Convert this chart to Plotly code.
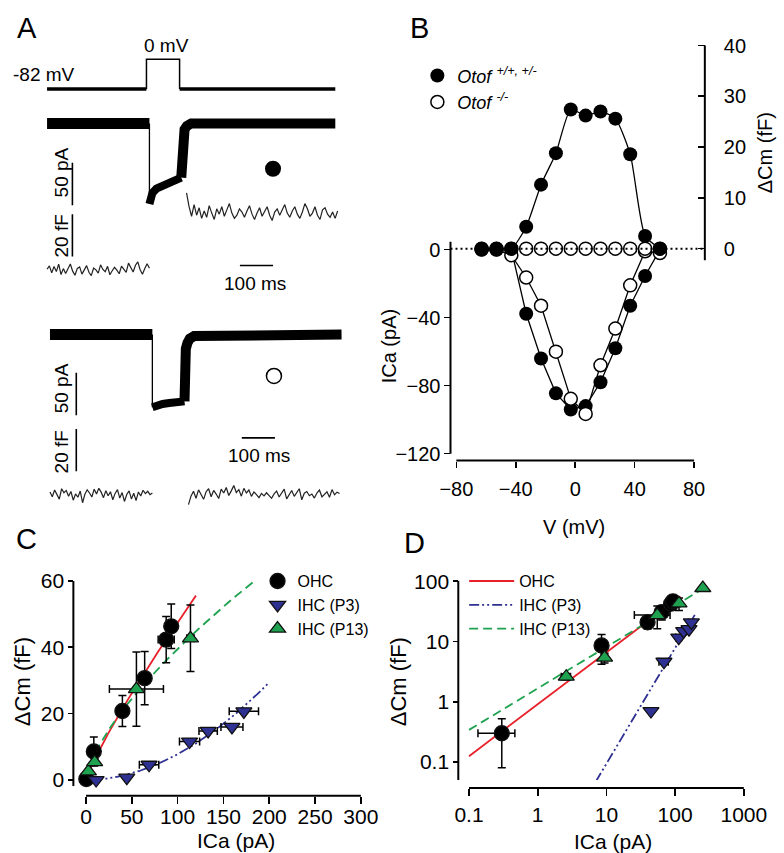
import numpy as np
import plotly.graph_objects as go

W, H = 784, 853
FONT = "Liberation Sans, Arial, sans-serif"

# ======================= DATA =======================
# ---- Panel A: example recordings (time in ms) ----
hold_mV, step_mV = -82, 0
pulse_on_ms, pulse_off_ms, sweep_end_ms = 300, 400, 870

# Otof +/+ (top) Ca current, pA
wt_I_pre_t = [0, 309]
wt_I_pre = [0, 0]
wt_I_step_t = [309, 312, 318, 330, 345, 360, 375, 390, 405]
wt_I_step = [-95, -88, -82, -77, -74, -71, -68, -66, -64]
wt_I_post_t = [405, 406, 408, 411, 415, 422, 435, 870]
wt_I_post = [-64, -45, -22, -12, -7, -3, 0, 0]
# Otof +/+ capacitance, fF
wt_Cm_pre_span = (0, 309)
wt_Cm_pre = [0.5, 2.1, -1.2, 1.8, -0.6, 2.9, -2.0, 0.8, -1.5, 1.2, 3.0, -0.4, -2.3, 0.9, 1.6,
             -1.8, 0.3, 2.2, -0.9, -2.5, 1.1, 0.2, -1.3, 2.6, 0.4, -0.7, 1.9, -2.1, -0.2, 1.4,
             0.1, -1.6, 2.0, 0.6, -1.0, 3.4, 1.2, -0.8, 2.4, 4.0, 0.3, -1.9, 0.8, 3.1, 1.0]
wt_Cm_post_span = (421, 877)
wt_Cm_post = [36.5, 30, 25.5, 31, 26, 29.5, 24.5, 28, 25, 30.5, 27, 24, 29, 26.5, 30, 25.5,
              28.5, 31.5, 27, 24.5, 26, 29, 27.5, 25, 28, 30.5, 26.5, 24, 27, 29.5, 25.5, 28,
              30, 26, 23.5, 27.5, 29, 26, 28.5, 31, 27, 25, 28, 30, 26.5, 24.5, 27.5, 31.5,
              29, 25.5, 27, 30, 26, 24, 28.5, 29.5, 26.5, 25, 27.5, 24.5, 28]

# Otof -/- (bottom) Ca current, pA
ko_I_pre_t = [0, 309]
ko_I_pre = [0, 0]
ko_I_step_t = [309, 320, 340, 360, 380, 406]
ko_I_step = [-86, -84, -82, -81, -80, -79]
ko_I_post_t = [406, 407, 410, 415, 422, 435, 880]
ko_I_post = [-79, -30, -17, -10, -5, -2, 0]
# Otof -/- capacitance, fF
ko_Cm_pre_span = (0, 309)
ko_Cm_pre = [1.5, -0.8, 2.4, 0.2, -1.9, 3.0, 1.1, 2.2, -0.5, 1.7, -2.4, 0.6, -1.0, 1.9, -3.6,
             0.4, 2.5, 1.0, -0.9, 2.8, 0.5, 3.2, 1.4, -1.2, 2.1, -0.3, 1.6, -2.2, 0.8, 2.6,
             -1.4, 1.2, -3.0, 0.3, 2.0, -1.8, 0.9, -2.6, 1.5, -0.4, 2.3, 0.7, 1.8, 0.2, 1.0]
ko_Cm_post_span = (418, 874)
ko_Cm_post = [-4.5, -0.5, 1.8, -1.5, 2.5, 0.3, -2.0, 1.6, 3.0, -0.8, 2.2, 0.5, -1.6, 2.8, 1.0,
              3.6, -0.2, 2.0, 4.5, 1.2, 2.6, -0.5, 3.2, 1.0, 2.4, -0.6, 1.5, 0.2, -1.2, 0.8,
              -0.4, 1.1, 0.0, -1.5, 0.6, 1.9, -0.9, 1.2, 2.8, -1.8, 0.4, 2.2, -0.6, 1.3, 3.0,
              -2.2, 0.9, 1.7, -0.3, 0.5, -1.4, 1.0, 2.4, -0.8, 0.3, 1.6, -1.0, 2.6, 0.2, 1.4, 0.8]

# scale bars
SB_I_pA, SB_C_fF, SB_T_ms = 50, 20, 100

# ---- Panel B: I-V and dCm-V ----
V_mV = [-63, -53, -43, -33, -23, -13, -3, 7, 17, 27, 37, 47, 57]
wt_ICa = [0, 0, 0, -37.7, -64, -84.5, -94, -92, -78, -58, -33, -15.5, 0]
ko_ICa = [0, 0, -3.3, -16.4, -33, -60, -87.7, -96.6, -68, -46.4, -21, -1, -2]
wt_dCm = [0, 0, 0, 4.3, 12.6, 18.8, 27.4, 26.2, 27, 25.6, 18.6, 2.5, 0]
ko_dCm = [0, 0, 0, 0, 0, 0, 0, 0, 0, 0, 0, 0, 0]

# ---- Panels C & D: dCm vs ICa ----
ohc_I = [0.3, 8.5, 39.7, 64, 87.5, 93]
ohc_C = [0.3, 8.6, 20.8, 30.7, 42.3, 46.3]
ohc_Ierr = [0.165, 1.0, 1.5, 2.0, 8.8, 3.0]
ohc_Cerr = [0.22, 4.4, 4.7, 8.0, 7.0, 6.7]

p3_I = [11, 44.5, 68.8, 113, 133.3, 159.3, 172.3]
p3_C = [0, 0.7, 4.6, 11.6, 14.8, 16.0, 20.7]
p3_Ierr = [0, 0, 10.6, 11, 10, 12, 16]
p3_Cerr = [0, 0, 0.4, 0.6, 0.6, 0.6, 0.6]

p13_I = [2.6, 9.4, 55, 114, 253]
p13_C = [2.6, 5.4, 27.4, 42.7, 77]
p13_Ierr = [0.4, 1.0, 29.5, 4.0, 0]
p13_Cerr = [0.3, 1.0, 11.2, 10.0, 0]

# power-law fits  dCm = a * ICa^N  (a, N, ICa span)
fit_ohc = (0.905, 0.86, 0.1, 120)
fit_p3 = (0.001125, 1.92, 7, 200)
fit_p13 = (1.663, 0.688, 0.1, 260)

# ======================= STYLE =======================
RED = "#E8202A"
GREEN = "#1FA24F"
BLUE = "#2E3192"


def X(p):
    return p / W


def Y(p):
    return 1 - p / H


def xdom(l, r):
    return [X(l), X(r)]


def ydom(t, b):
    return [Y(b), Y(t)]


def xr(v0, p0, s, l, r):
    return [v0 + (l - p0) / s, v0 + (r - p0) / s]


def yr(v0, p0, s, t, b):
    return [v0 + (p0 - b) / s, v0 + (p0 - t) / s]


fig = go.Figure()

# ---------------- Panel A ----------------
fig.add_trace(go.Scatter(x=[0, pulse_on_ms, None, pulse_off_ms, sweep_end_ms],
                         y=[hold_mV, hold_mV, None, hold_mV, hold_mV],
                         mode="lines", line=dict(color="black", width=3.5),
                         xaxis="x", yaxis="y", showlegend=False, hoverinfo="skip"))
fig.add_trace(go.Scatter(x=[pulse_on_ms, pulse_on_ms, pulse_off_ms, pulse_off_ms],
                         y=[hold_mV, step_mV, step_mV, hold_mV],
                         mode="lines", line=dict(color="black", width=1.5),
                         xaxis="x", yaxis="y", showlegend=False, hoverinfo="skip"))


def current_trace(pre_t, pre, st_t, st, post_t, post, xa, ya):
    fig.add_trace(go.Scatter(x=pre_t, y=pre, mode="lines", line=dict(color="black", width=11),
                             xaxis=xa, yaxis=ya, showlegend=False, hoverinfo="skip"))
    fig.add_trace(go.Scatter(x=[pre_t[-1], st_t[0]], y=[pre[-1], st[0]], mode="lines",
                             line=dict(color="black", width=1.3),
                             xaxis=xa, yaxis=ya, showlegend=False, hoverinfo="skip"))
    fig.add_trace(go.Scatter(x=st_t, y=st, mode="lines", line=dict(color="black", width=8),
                             xaxis=xa, yaxis=ya, showlegend=False, hoverinfo="skip"))
    fig.add_trace(go.Scatter(x=post_t, y=post, mode="lines", line=dict(color="black", width=10),
                             xaxis=xa, yaxis=ya, showlegend=False, hoverinfo="skip"))


def cm_trace(span, vals, xa, ya):
    t = np.linspace(span[0], span[1], len(vals))
    fig.add_trace(go.Scatter(x=t, y=vals, mode="lines", line=dict(color="#222", width=1.2),
                             xaxis=xa, yaxis=ya, showlegend=False, hoverinfo="skip"))


current_trace(wt_I_pre_t, wt_I_pre, wt_I_step_t, wt_I_step, wt_I_post_t, wt_I_post, "x", "y2")
cm_trace(wt_Cm_pre_span, wt_Cm_pre, "x", "y3")
cm_trace(wt_Cm_post_span, wt_Cm_post, "x", "y3")
current_trace(ko_I_pre_t, ko_I_pre, ko_I_step_t, ko_I_step, ko_I_post_t, ko_I_post, "x2", "y4")
cm_trace(ko_Cm_pre_span, ko_Cm_pre, "x2", "y5")
cm_trace(ko_Cm_post_span, ko_Cm_post, "x2", "y5")

# genotype symbols next to traces
fig.add_trace(go.Scatter(x=[682], y=[-53.5], mode="markers",
                         marker=dict(symbol="circle", size=16, color="black"),
                         xaxis="x", yaxis="y2", showlegend=False, hoverinfo="skip"))
fig.add_trace(go.Scatter(x=[676], y=[-49], mode="markers",
                         marker=dict(symbol="circle", size=15, color="white",
                                     line=dict(color="black", width=1.5)),
                         xaxis="x2", yaxis="y4", showlegend=False, hoverinfo="skip"))

# ---------------- Panel B ----------------
fig.add_trace(go.Scatter(x=V_mV, y=wt_ICa, mode="lines", line=dict(color="black", width=1.3),
                         xaxis="x3", yaxis="y6", showlegend=False, hoverinfo="skip"))
fig.add_trace(go.Scatter(x=V_mV, y=ko_ICa, mode="lines", line=dict(color="black", width=1.3),
                         xaxis="x3", yaxis="y6", showlegend=False, hoverinfo="skip"))
fig.add_trace(go.Scatter(x=V_mV, y=wt_ICa, mode="markers", name="<i>Otof</i> <sup><i>+/+, +/-</i></sup>",
                         marker=dict(symbol="circle", size=14, color="black"),
                         xaxis="x3", yaxis="y6", legend="legend"))
fig.add_trace(go.Scatter(x=V_mV, y=ko_ICa, mode="markers", name="<i>Otof</i> <sup><i>-/-</i></sup>",
                         marker=dict(symbol="circle", size=13, color="white",
                                     line=dict(color="black", width=1.5)),
                         xaxis="x3", yaxis="y6", legend="legend"))
fig.add_trace(go.Scatter(x=V_mV, y=ko_dCm, mode="markers",
                         marker=dict(symbol="circle", size=13, color="white",
                                     line=dict(color="black", width=1.5)),
                         xaxis="x3", yaxis="y7", showlegend=False, hoverinfo="skip"))
fig.add_trace(go.Scatter(x=V_mV, y=wt_dCm, mode="lines",
                         line=dict(color="black", width=1.3, shape="spline", smoothing=0.6),
                         xaxis="x3", yaxis="y7", showlegend=False, hoverinfo="skip"))
fig.add_trace(go.Scatter(x=V_mV, y=wt_dCm, mode="markers",
                         marker=dict(symbol="circle", size=14, color="black"),
                         xaxis="x3", yaxis="y7", showlegend=False, hoverinfo="skip"))


# ---------------- Panels C & D ----------------
def fit_curve(p):
    a, n, lo, hi = p
    xs = np.geomspace(lo, hi, 200)
    return xs, a * xs ** n


FITS = [(fit_ohc, RED, "solid", "OHC"),
        (fit_p3, BLUE, "10px,3px,2px,3px,2px,3px", "IHC (P3)"),
        (fit_p13, GREEN, "9px,5px", "IHC (P13)")]
for p, col, dash, name in FITS:
    xs, ys = fit_curve(p)
    fig.add_trace(go.Scatter(x=xs, y=ys, mode="lines", line=dict(color=col, width=1.8, dash=dash),
                             xaxis="x4", yaxis="y8", showlegend=False, hoverinfo="skip"))
for p, col, dash, name in FITS:
    xs, ys = fit_curve(p)
    fig.add_trace(go.Scatter(x=xs, y=ys, mode="lines", name=name,
                             line=dict(color=col, width=1.8, dash=dash),
                             xaxis="x5", yaxis="y9", legend="legend3"))

groups = [
    ("OHC", ohc_I, ohc_C, ohc_Ierr, ohc_Cerr, "circle", "black", 15),
    ("IHC (P3)", p3_I, p3_C, p3_Ierr, p3_Cerr, "triangle-down", BLUE, 14),
    ("IHC (P13)", p13_I, p13_C, p13_Ierr, p13_Cerr, "triangle-up", GREEN, 14),
]
for axes, show in [(("x4", "y8"), True), (("x5", "y9"), False)]:
    for name, xi, yc, xe, ye, sym, col, sz in groups:
        fig.add_trace(go.Scatter(
            x=xi, y=yc, mode="markers", name=name,
            marker=dict(symbol=sym, size=sz, color=col, line=dict(color="#111", width=1.3)),
            error_x=dict(type="data", array=xe, color="black", thickness=1.5, width=4),
            error_y=dict(type="data", array=ye, color="black", thickness=1.5, width=4),
            xaxis=axes[0], yaxis=axes[1], showlegend=show, legend="legend2"))

# ---------------- layout ----------------
tickfont_B = dict(family=FONT, size=20, color="black")
tickfont_C = dict(family=FONT, size=21, color="black")
common = dict(showgrid=False, zeroline=False, showline=False, tickcolor="black",
              tickwidth=1.6, fixedrange=True)

layout = dict(
    width=W, height=H, margin=dict(l=0, r=0, t=0, b=0),
    paper_bgcolor="white", plot_bgcolor="rgba(0,0,0,0)",
    font=dict(family=FONT, color="black"),
    # panel A (hidden axes)
    xaxis=dict(domain=xdom(28, 348), range=xr(0, 37, 0.34, 28, 348), anchor="y", visible=False),
    xaxis2=dict(domain=xdom(28, 348), range=xr(0, 40, 0.34, 28, 348), anchor="y4", visible=False),
    yaxis=dict(domain=ydom(38, 90), range=yr(0, 48, 30 / 82, 38, 90), anchor="x", visible=False),
    yaxis2=dict(domain=ydom(92, 215), range=yr(0, 113, 0.86, 92, 215), anchor="x", visible=False),
    yaxis3=dict(domain=ydom(168, 284), range=yr(0, 262, 2.15, 168, 284), anchor="x", visible=False),
    yaxis4=dict(domain=ydom(305, 420), range=yr(0, 327, 0.86, 305, 420), anchor="x2", visible=False),
    yaxis5=dict(domain=ydom(415, 515), range=yr(0, 490, 2.15, 415, 515), anchor="x2", visible=False),
    # panel B
    xaxis3=dict(domain=xdom(451, 712), range=xr(0, 579, 1.525, 451, 712), anchor="free",
                position=Y(455), tickmode="array", tickvals=[-80, -40, 0, 40, 80],
                ticks="outside", ticklen=6, tickfont=tickfont_B, ticklabelstandoff=4, **common),
    yaxis6=dict(domain=ydom(28, 462), range=yr(0, 241, 1.725, 28, 462), anchor="free",
                position=X(451), tickmode="array", tickvals=[0, -40, -80, -120],
                ticks="outside", ticklen=6, tickfont=tickfont_B, **common),
    yaxis7=dict(domain=ydom(28, 462), range=yr(0, 240, 5.15, 28, 462), anchor="free",
                overlaying="y6", side="right", position=X(712), tickmode="array",
                tickvals=[0, 10, 20, 30, 40], ticks="inside", ticklen=7,
                tickfont=tickfont_B, ticklabelstandoff=18, **common),
    # panel C
    xaxis4=dict(domain=xdom(62, 368), range=xr(0, 77, 0.94, 62, 368), anchor="free",
                position=Y(795), tickmode="array", tickvals=[0, 50, 100, 150, 200, 250, 300],
                ticks="outside", ticklen=7, tickfont=tickfont_C, ticklabelstandoff=-5, **common),
    yaxis8=dict(domain=ydom(577, 797), range=yr(0, 779, 3.367, 577, 797), anchor="free",
                position=X(64), tickmode="array", tickvals=[0, 20, 40, 60],
                ticks="outside", ticklen=5, tickfont=tickfont_C, **common),
    # panel D
    xaxis5=dict(type="log", domain=xdom(455, 770),
                range=[-1 + (455 - 470) / 70.5, -1 + (770 - 470) / 70.5], anchor="free",
                position=Y(787), tickmode="array", tickvals=[0.1, 1, 10, 100, 1000],
                ticktext=["0.1", "1", "10", "100", "1000"],
                ticks="outside", ticklen=7, tickfont=tickfont_C, ticklabelstandoff=1, **common),
    yaxis9=dict(type="log", domain=ydom(560, 779),
                range=[2 - (779 - 577.3) / 61.13, 2 - (560 - 577.3) / 61.13], anchor="free",
                position=X(459), tickmode="array", tickvals=[0.1, 1, 10, 100],
                ticktext=["0.1", "1", "10", "100"],
                ticks="outside", ticklen=5, tickfont=tickfont_C, **common),
    legend=dict(x=X(417), y=Y(46), xanchor="left", yanchor="top", bgcolor="rgba(0,0,0,0)",
                font=dict(family=FONT, size=18), tracegroupgap=0),
    legend2=dict(x=X(253), y=Y(560), xanchor="left", yanchor="top", bgcolor="rgba(0,0,0,0)",
                 font=dict(family=FONT, size=16)),
    legend3=dict(x=X(465), y=Y(560), xanchor="left", yanchor="top", bgcolor="rgba(0,0,0,0)",
                 font=dict(family=FONT, size=16), itemwidth=45),
)
fig.update_layout(**layout)

# ---------------- shapes: axis lines, scale bars, zero line ----------------
AX = dict(color="black", width=2)
shapes = [
    dict(type="line", xref="x3", yref="paper", x0=-80, x1=80, y0=Y(455), y1=Y(455), line=AX),
    dict(type="line", xref="paper", yref="y6", x0=X(451), x1=X(451), y0=-120, y1=4.6, line=AX),
    dict(type="line", xref="paper", yref="y7", x0=X(712), x1=X(712), y0=-2.3, y1=40, line=AX),
    dict(type="line", xref="paper", yref="y7", x0=X(451), x1=X(712), y0=0, y1=0, layer="above",
         line=dict(color="black", width=2, dash="2px,3px")),
    dict(type="line", xref="x4", yref="paper", x0=0, x1=300, y0=Y(795), y1=Y(795), line=AX),
    dict(type="line", xref="paper", yref="y8", x0=X(64), x1=X(64), y0=-1.8, y1=60, line=AX),
    dict(type="line", xref="paper", yref="paper", x0=X(470), x1=X(752), y0=Y(787), y1=Y(787), line=AX),
    dict(type="line", xref="paper", yref="paper", x0=X(459), x1=X(459), y0=Y(577), y1=Y(779), line=AX),
]
SB = dict(color="black", width=1.6)
shapes += [
    dict(type="line", xref="x", yref="y2", x0=76.5, x1=76.5, y0=-46.5, y1=-46.5 - SB_I_pA, line=SB),
    dict(type="line", xref="x", yref="y3", x0=76.5, x1=76.5, y0=26.5, y1=26.5 - SB_C_fF, line=SB),
    dict(type="line", xref="x", yref="y3", x0=582, x1=582 + SB_T_ms, y0=2.3, y1=2.3, line=SB),
    dict(type="line", xref="x2", yref="y4", x0=79.4, x1=79.4, y0=-45.3, y1=-45.3 - SB_I_pA, line=SB),
    dict(type="line", xref="x2", yref="y5", x0=79.4, x1=79.4, y0=31.2, y1=31.2 - SB_C_fF, line=SB),
    dict(type="line", xref="x2", yref="y5", x0=579, x1=579 + SB_T_ms, y0=27, y1=27, line=SB),
]
fig.update_layout(shapes=shapes)


def txt(s, x, y, size, xanchor="center", yanchor="middle", angle=0):
    return dict(text=s, x=X(x), y=Y(y), xref="paper", yref="paper", showarrow=False,
                xanchor=xanchor, yanchor=yanchor, textangle=angle,
                font=dict(family=FONT, size=size, color="black"))


ann = [
    txt("A", 4, 16, 29, xanchor="left"),
    txt("B", 407, 16, 29, xanchor="left"),
    txt("C", 3, 535, 29, xanchor="left"),
    txt("D", 401, 539, 29, xanchor="left"),
    txt(f"{hold_mV} mV", 0, 63, 19, xanchor="left"),
    txt(f"{step_mV} mV", 160, 34, 19),
    txt(f"{SB_I_pA} pA", 52, 163, 19, angle=-90),
    txt(f"{SB_C_fF} fF", 52, 227, 19, angle=-90),
    txt(f"{SB_T_ms} ms", 250, 275, 19),
    txt(f"{SB_I_pA} pA", 52, 382, 19, angle=-90),
    txt(f"{SB_C_fF} fF", 52, 446, 19, angle=-90),
    txt(f"{SB_T_ms} ms", 255, 450, 19),
    txt("V (mV)", 578, 522, 20),
    txt("ICa (pA)", 388, 339, 20, angle=-90),
    txt("ΔCm (fF)", 774, 143, 20, angle=-90),
    txt("ICa (pA)", 231, 840, 21),
    txt("ΔCm (fF)", 12, 679, 22, angle=-90),
    txt("ICa (pA)", 618, 841, 21),
    txt("ΔCm (fF)", 398, 679, 22, angle=-90),
]
fig.update_layout(annotations=ann)

fig.write_html("out.html", config={"displayModeBar": False, "staticPlot": True},
               post_script="document.body.style.margin='0';document.body.style.overflow='hidden';")
